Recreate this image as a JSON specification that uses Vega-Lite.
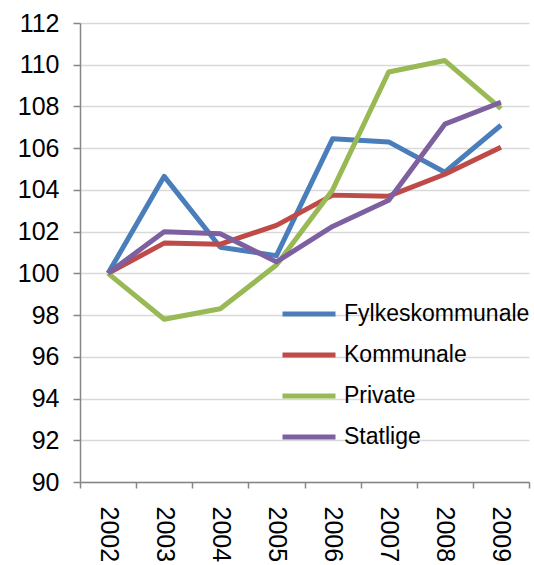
{
  "$schema": "https://vega.github.io/schema/vega-lite/v6.json",
  "autosize": "none",
  "width": 449,
  "height": 459,
  "padding": {"left": 80, "top": 23, "right": 5, "bottom": 83},
  "background": "white",
  "config": {
    "font": "Liberation Sans",
    "view": {"stroke": null}
  },
  "data": {
    "values": [
      {"year": "2002", "series": "Fylkeskommunale", "value": 100},
      {"year": "2003", "series": "Fylkeskommunale", "value": 104.65},
      {"year": "2004", "series": "Fylkeskommunale", "value": 101.25},
      {"year": "2005", "series": "Fylkeskommunale", "value": 100.85},
      {"year": "2006", "series": "Fylkeskommunale", "value": 106.45},
      {"year": "2007", "series": "Fylkeskommunale", "value": 106.3},
      {"year": "2008", "series": "Fylkeskommunale", "value": 104.85},
      {"year": "2009", "series": "Fylkeskommunale", "value": 107.1},
      {"year": "2002", "series": "Kommunale", "value": 100},
      {"year": "2003", "series": "Kommunale", "value": 101.45},
      {"year": "2004", "series": "Kommunale", "value": 101.4},
      {"year": "2005", "series": "Kommunale", "value": 102.3},
      {"year": "2006", "series": "Kommunale", "value": 103.75},
      {"year": "2007", "series": "Kommunale", "value": 103.7},
      {"year": "2008", "series": "Kommunale", "value": 104.75},
      {"year": "2009", "series": "Kommunale", "value": 106.05},
      {"year": "2002", "series": "Private", "value": 100},
      {"year": "2003", "series": "Private", "value": 97.8},
      {"year": "2004", "series": "Private", "value": 98.3},
      {"year": "2005", "series": "Private", "value": 100.4},
      {"year": "2006", "series": "Private", "value": 104.0},
      {"year": "2007", "series": "Private", "value": 109.65},
      {"year": "2008", "series": "Private", "value": 110.2},
      {"year": "2009", "series": "Private", "value": 107.9},
      {"year": "2002", "series": "Statlige", "value": 100},
      {"year": "2003", "series": "Statlige", "value": 102.0},
      {"year": "2004", "series": "Statlige", "value": 101.9},
      {"year": "2005", "series": "Statlige", "value": 100.55},
      {"year": "2006", "series": "Statlige", "value": 102.25},
      {"year": "2007", "series": "Statlige", "value": 103.5},
      {"year": "2008", "series": "Statlige", "value": 107.15},
      {"year": "2009", "series": "Statlige", "value": 108.2}
    ]
  },
  "mark": {"type": "line", "strokeWidth": 5, "strokeJoin": "round"},
  "encoding": {
    "x": {
      "field": "year",
      "type": "ordinal",
      "scale": {"type": "band", "paddingInner": 0, "paddingOuter": 0},
      "axis": {
        "title": null,
        "labelAngle": 90,
        "labelFontSize": 25,
        "labelColor": "black",
        "labelPadding": 18,
        "tickBand": "extent",
        "tickColor": "#868686",
        "tickSize": 6,
        "tickWidth": 1.5,
        "domainColor": "#868686",
        "domainWidth": 1.5,
        "grid": false
      }
    },
    "y": {
      "field": "value",
      "type": "quantitative",
      "scale": {"domain": [90, 112], "nice": false, "zero": false},
      "axis": {
        "title": null,
        "values": [90, 92, 94, 96, 98, 100, 102, 104, 106, 108, 110, 112],
        "labelFontSize": 25,
        "labelColor": "black",
        "labelPadding": 14,
        "tickColor": "#868686",
        "tickSize": 7,
        "tickWidth": 1.5,
        "domainColor": "#868686",
        "domainWidth": 1.5,
        "gridColor": "#D9D9D9",
        "gridWidth": 1.5
      }
    },
    "color": {
      "field": "series",
      "type": "nominal",
      "scale": {
        "domain": ["Fylkeskommunale", "Kommunale", "Private", "Statlige"],
        "range": ["#4A7EBB", "#BE4B48", "#98B954", "#7D60A0"]
      },
      "legend": {
        "title": null,
        "orient": "none",
        "legendX": 200,
        "legendY": 262,
        "symbolType": "stroke",
        "symbolSize": 2809,
        "symbolStrokeWidth": 5,
        "labelFontSize": 23,
        "labelColor": "black",
        "labelOffset": 6,
        "labelLimit": 0,
        "rowPadding": -20
      }
    }
  }
}
